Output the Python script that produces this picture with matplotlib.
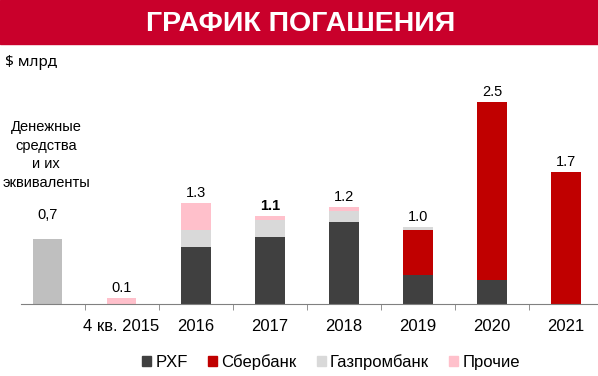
import numpy as np
import matplotlib
matplotlib.use('Agg')
import matplotlib.pyplot as plt
from matplotlib.patches import Patch, Rectangle

plt.rcParams['font.family'] = ['Liberation Sans', 'DejaVu Sans']

# categories (first one is the cash column)
categories = ['', '4 кв. 2015', '2016', '2017', '2018', '2019', '2020', '2021']
cash = [0.80, 0, 0, 0, 0, 0, 0, 0]
pxf = [0, 0, 0.70, 0.83, 1.01, 0.36, 0.30, 0]
sber = [0, 0, 0, 0, 0, 0.55, 2.20, 1.63]
gazprom = [0, 0, 0.22, 0.21, 0.14, 0.04, 0, 0]
other = [0, 0.07, 0.33, 0.05, 0.05, 0, 0, 0]
labels = ['0,7', '0.1', '1.3', '1.1', '1.2', '1.0', '2.5', '1.7']
series_names = ['PXF', 'Сбербанк', 'Газпромбанк', 'Прочие']

c_cash = '#BFBFBF'
c_pxf = '#404040'
c_sber = '#C00000'
c_gaz = '#D9D9D9'
c_other = '#FFC0CB'
c_title = '#C9002B'

W, H = 598, 376
fig = plt.figure(figsize=(W / 100, H / 100), dpi=100)

# red title band
fig.patches.append(Rectangle((0, 1 - 44 / H), 1, 44 / H, transform=fig.transFigure,
                             color=c_title, zorder=0))
fig.text(0.502, 1 - 24 / H, 'ГРАФИК ПОГАШЕНИЯ', color='white', fontsize=20.5,
         fontweight='bold', ha='center', va='center')
fig.text(5 / W, 1 - 62 / H, '$ млрд', fontsize=11, family=['Noto Sans', 'DejaVu Sans'],
         fontweight='semibold', ha='left', va='center')
fig.text(46 / W, 1 - 155 / H, 'Денежные\nсредства\nи их\nэквиваленты', fontsize=10.5,
         ha='center', va='center', linespacing=1.4)

step = 74.1
c0 = 47.5
ppu = 80.8
base = 304
top = 84
ax = fig.add_axes([0, (H - base) / H, 1, (base - top) / H])
ax.set_xlim(-c0 / step, (W - c0) / step)
ax.set_ylim(0, (base - top) / ppu)
ax.patch.set_alpha(0)

x = np.arange(len(categories))
w = 0.4
pxf = np.array(pxf)
sber = np.array(sber)
gazprom = np.array(gazprom)
other = np.array(other)

ax.bar(x, cash, w, color=c_cash)
ax.bar(x, pxf, w, color=c_pxf)
ax.bar(x, sber, w, bottom=pxf, color=c_sber)
ax.bar(x, gazprom, w, bottom=pxf + sber, color=c_gaz)
ax.bar(x, other, w, bottom=pxf + sber + gazprom, color=c_other)

totals = np.array(cash) + pxf + sber + gazprom + other
for i, (t, lab) in enumerate(zip(totals, labels)):
    off = 24 if i == 0 else 10
    ax.annotate(lab, (x[i], t), xytext=(0, off), textcoords='offset pixels',
                ha='center', va='center', fontsize=10.5,
                fontweight='bold' if lab == '1.1' else 'normal')

for s in ['top', 'right', 'left']:
    ax.spines[s].set_visible(False)
ax.spines['bottom'].set_color('#808080')
ax.spines['bottom'].set_bounds(-0.36, (W - c0) / step)
ax.set_yticks([])
ax.set_xticks(x)
ax.set_xticklabels(categories, fontsize=12)
ax.tick_params(axis='x', which='major', length=0, pad=11)
ax.set_xticks(np.arange(0.5, 7, 1), minor=True)
ax.tick_params(axis='x', which='minor', length=4, color='#808080', direction='out')

handles = [Patch(color=c) for c in [c_pxf, c_sber, c_gaz, c_other]]
fig.legend(handles, series_names, loc='center', bbox_to_anchor=(331 / W, 14 / H), ncol=4,
           frameon=False, fontsize=12, handlelength=0.55, handleheight=0.55,
           handletextpad=0.25, columnspacing=1.2)

fig.savefig('out.png', dpi=100)
